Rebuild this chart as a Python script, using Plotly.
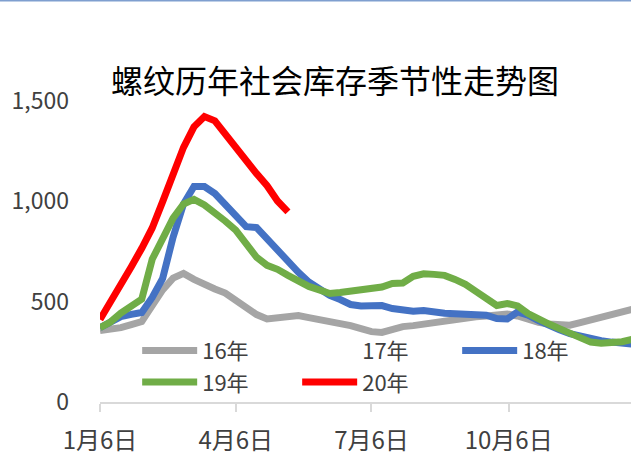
import datetime as dt
import plotly.graph_objects as go

title_text = "螺纹历年社会库存季节性走势图"
series_names = ["16年", "17年", "18年", "19年", "20年"]
series_colors = ["#A5A5A5", "rgba(0,0,0,0)", "#4472C4", "#70AD47", "#FF0000"]

start = dt.date(2020, 1, 6)
week_dates = [start + dt.timedelta(days=7 * i) for i in range(52)]

s16 = [355, 362, 370, 385, 400, 480, 558, 616, 640, 610, 584, 562, 542, 509, 475, 435,
       413, 420, 428, 430, 420, 410, 405, 395, 380, 365, 350, 346, 365, 375, 380, 387,
       402, 409, 413, 418, 424, 428, 433, 438, 428, 410, 396, 388, 384, 382, 395, 408,
       416, 428, 445, 462]
s17 = []
s18 = [370, 398, 425, 436, 445, 520, 615, 820, 985, 1072, 1072, 1037, 985, 925, 872, 868,
       810, 757, 705, 645, 597, 566, 530, 510, 485, 478, 478, 480, 465, 458, 452, 455,
       446, 442, 439, 436, 434, 432, 415, 413, 448, 432, 405, 380, 360, 340, 328, 312,
       305, 298, 292, 288]
s19 = [370, 398, 442, 480, 512, 710, 810, 915, 985, 1008, 980, 945, 900, 855, 785, 720,
       680, 660, 630, 600, 575, 558, 540, 545, 552, 560, 565, 572, 590, 592, 625, 638,
       635, 630, 610, 585, 550, 520, 480, 490, 478, 440, 410, 388, 365, 340, 318, 298,
       292, 293, 300, 312]
s20 = [410, 494, 583, 673, 765, 866, 997, 1136, 1267, 1369, 1420, 1399, 1330, 1271, 1205,
       1136, 1076, 1000, 946]

tick_dates = [dt.date(2020, 1, 6), dt.date(2020, 4, 6), dt.date(2020, 7, 6), dt.date(2020, 10, 6)]
tick_labels = ["1月6日", "4月6日", "7月6日", "10月6日"]
y_ticks = [0, 500, 1000, 1500]

all_series = [s16, s17, s18, s19, s20]

FONT = "Noto Sans CJK SC"

fig = go.Figure()
for name, vals, col in zip(series_names, all_series, series_colors):
    fig.add_trace(go.Scatter(
        x=week_dates[:len(vals)] if vals else [None],
        y=vals if vals else [None],
        mode="lines",
        name=name,
        line=dict(color=col, width=7),
        hoverinfo="skip",
    ))

fig.update_layout(
    width=631, height=456,
    margin=dict(l=100, r=0, t=0, b=51),
    paper_bgcolor="white", plot_bgcolor="white",
    font=dict(family=FONT, color="#404040", size=22),
    title=dict(text=title_text, x=0.531, xanchor="center", y=0.82, yanchor="middle",
               xref="container", yref="container",
               font=dict(family=FONT, size=32, color="black")),
    showlegend=True,
    legend=dict(orientation="h", x=0.07, xanchor="left", y=0.18, yanchor="top",
                entrywidth=90, entrywidthmode="pixels", itemwidth=55,
                font=dict(family=FONT, size=22, color="#404040"),
                bgcolor="rgba(0,0,0,0)", traceorder="normal", tracegroupgap=0),
    xaxis=dict(
        type="date",
        range=[dt.date(2020, 1, 6), dt.date(2020, 12, 27)],
        tickvals=tick_dates, ticktext=tick_labels,
        showgrid=False, zeroline=False,
        showline=True, linecolor="#D9D9D9", linewidth=1.5,
        ticks="outside", ticklen=8, tickcolor="#D9D9D9", tickwidth=1.5,
        ticklabelstandoff=8,
        tickfont=dict(family=FONT, size=24, color="#404040"),
    ),
    yaxis=dict(
        range=[0, 2000],
        tickvals=y_ticks, tickformat=",",
        showgrid=False, zeroline=False, showline=False,
        ticks="", ticklabelstandoff=30,
        tickfont=dict(family=FONT, size=23, color="#404040"),
    ),
    shapes=[dict(type="line", xref="paper", yref="paper",
                 x0=-100 / 531, x1=1.0, y0=0.9985, y1=0.9985,
                 line=dict(color="#7F9FCF", width=2))],
)

fig.write_html("out.html")
